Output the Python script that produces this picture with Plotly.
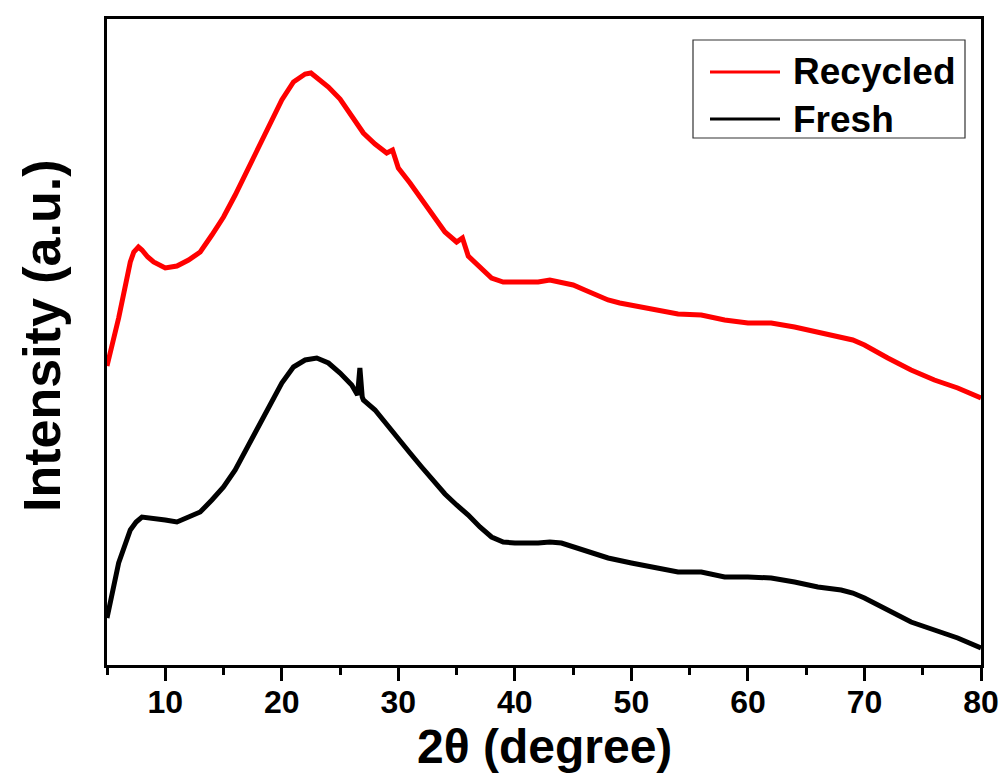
import plotly.graph_objects as go

# XRD patterns, 2-theta in degrees, intensity in arbitrary units
two_theta_recycled = [5, 6, 7, 7.3, 7.7, 8, 8.5, 9, 10, 11, 12, 13, 14, 15, 16, 17, 18, 19, 20,
                      21, 22, 22.5, 23, 24, 25, 26, 27, 28, 29, 29.5, 30, 31, 32, 33, 34, 35,
                      35.5, 36, 37, 38, 39, 40, 41, 42, 43, 44, 45, 46, 47, 48, 49, 50, 52, 54,
                      56, 58, 60, 62, 64, 66, 68, 69, 70, 71, 72, 74, 76, 78, 80]
intensity_recycled = [299, 347, 403, 413, 418, 415, 408, 403, 397, 399, 405, 413, 430, 448, 470,
                      494, 518, 542, 565, 583, 591, 592, 587, 578, 566, 548, 532, 521, 512, 515,
                      497, 482, 465, 448, 433, 423, 427, 409, 398, 387, 383, 383, 383, 383, 385,
                      383, 380, 375, 370, 365, 362, 360, 355, 351, 350, 345, 342, 342, 338, 333,
                      328, 325, 320, 313, 307, 295, 285, 277, 267]

two_theta_fresh = [5, 6, 7, 7.5, 8, 9, 10, 11, 12, 13, 14, 15, 16, 17, 18, 19, 20, 21, 22, 23,
                   24, 25, 26, 26.5, 26.7, 26.9, 27, 28, 29, 30, 31, 32, 33, 34, 35, 36, 37, 38,
                   39, 40, 42, 43, 44, 45, 46, 47, 48, 50, 52, 54, 56, 58, 60, 62, 64, 66, 68,
                   69, 70, 72, 74, 76, 78, 80]
intensity_fresh = [47, 102, 135, 143, 148, 147, 145, 143, 148, 153, 165, 178, 195, 217, 240, 262,
                   282, 298, 305, 307, 302, 292, 280, 270, 297, 268, 265, 255, 240, 225, 212, 198,
                   185, 171, 160, 150, 138, 128, 123, 122, 122, 123, 122, 118, 115, 110, 107, 102,
                   97, 93, 93, 88, 88, 87, 83, 78, 75, 72, 67, 55, 43, 35, 27, 17]

x_ticks = [10, 20, 30, 40, 50, 60, 70, 80]
series_names = ["Recycled", "Fresh"]
series_colors = ["#ff0000", "#000000"]
x_title = "2θ (degree)"
y_title = "Intensity (a.u.)"

FONT = "Arial, 'Liberation Sans', sans-serif"

fig = go.Figure()
fig.add_trace(go.Scatter(x=two_theta_recycled, y=intensity_recycled, mode="lines",
                         name=series_names[0], line=dict(color=series_colors[0], width=5),
                         showlegend=False))
fig.add_trace(go.Scatter(x=two_theta_fresh, y=intensity_fresh, mode="lines",
                         name=series_names[1], line=dict(color=series_colors[1], width=5),
                         showlegend=False))

# plot area spans 107..981 px horizontally and 19..665 px vertically
W, H = 1006, 774
L, R, T, B = 107, 25, 19, 109
pw, ph = W - L - R, H - T - B


def px(xp):
    return (xp - L) / pw


def py(yp):
    return (H - B - yp) / ph


# hand-drawn legend box with line samples
shapes = [dict(type="rect", xref="paper", yref="paper",
               x0=px(693), x1=px(965), y0=py(138), y1=py(40),
               line=dict(color="#333333", width=1.2), fillcolor="white")]
annotations = []
for i, (name, color) in enumerate(zip(series_names, series_colors)):
    yc = 72 + i * 47
    shapes.append(dict(type="line", xref="paper", yref="paper",
                       x0=px(710), x1=px(780), y0=py(yc), y1=py(yc),
                       line=dict(color=color, width=3)))
    annotations.append(dict(xref="paper", yref="paper", x=px(791), y=py(yc),
                            xanchor="left", yanchor="middle", showarrow=False,
                            text=f"<b>{name}</b>",
                            font=dict(family=FONT, size=37, color="black")))

# x-axis title placed below the tick labels
annotations.append(dict(xref="paper", yref="paper", x=px(544), y=py(746.5),
                        xanchor="center", yanchor="middle", showarrow=False,
                        text=f"<b>{x_title}</b>",
                        font=dict(family=FONT, size=48, color="black")))
# y-axis title, rotated
annotations.append(dict(xref="paper", yref="paper", x=px(42), y=py(336),
                        xanchor="center", yanchor="middle", showarrow=False,
                        textangle=-90, text=f"<b>{y_title}</b>",
                        font=dict(family=FONT, size=52, color="black")))

fig.update_layout(
    width=W, height=H,
    margin=dict(l=L, r=R, t=T, b=B),
    paper_bgcolor="white", plot_bgcolor="white",
    font=dict(family=FONT, color="black"),
    shapes=shapes, annotations=annotations,
    xaxis=dict(
        range=[5, 80], tickvals=x_ticks, ticktext=[f"<b>{v}</b>" for v in x_ticks],
        ticks="outside", ticklen=13, tickwidth=3, tickcolor="black",
        minor=dict(dtick=5, tick0=5, ticks="outside", ticklen=7, tickwidth=3, tickcolor="black"),
        tickfont=dict(family=FONT, size=32, color="black"),
        ticklabelstandoff=-6,
        showline=True, linewidth=3, linecolor="black", mirror=True,
        showgrid=False, zeroline=False, automargin=False,
    ),
    yaxis=dict(
        range=[0, 646], showticklabels=False, ticks="",
        showline=True, linewidth=3, linecolor="black", mirror=True,
        showgrid=False, zeroline=False, automargin=False,
    ),
)

fig.write_html("out.html")
